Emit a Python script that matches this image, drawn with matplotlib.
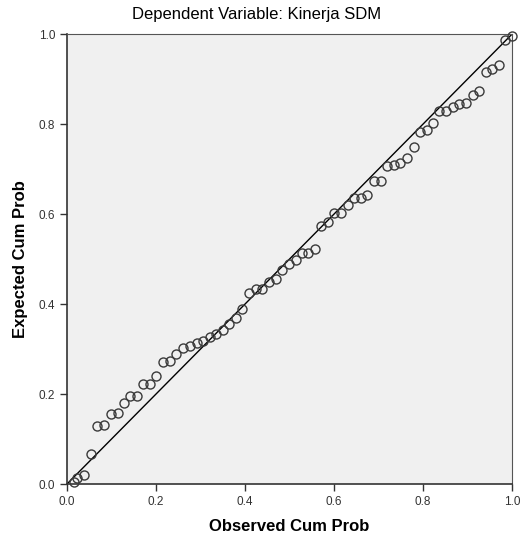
import numpy as np
import matplotlib
matplotlib.use('Agg')
import matplotlib.pyplot as plt

# Normal P-P plot of regression standardized residual
observed = [0.015, 0.022, 0.038, 0.054, 0.068, 0.082, 0.098, 0.114, 0.128, 0.142,
            0.157, 0.171, 0.186, 0.201, 0.216, 0.231, 0.246, 0.261, 0.276, 0.291,
            0.306, 0.321, 0.335, 0.350, 0.365, 0.380, 0.394, 0.410, 0.425, 0.439,
            0.453, 0.470, 0.484, 0.498, 0.514, 0.528, 0.542, 0.557, 0.571, 0.586,
            0.601, 0.616, 0.631, 0.645, 0.660, 0.675, 0.690, 0.705, 0.719, 0.734,
            0.748, 0.764, 0.779, 0.794, 0.809, 0.823, 0.837, 0.852, 0.867, 0.882,
            0.897, 0.912, 0.925, 0.941, 0.956, 0.970, 0.985, 0.999]
expected = [0.004, 0.013, 0.020, 0.067, 0.130, 0.132, 0.156, 0.157, 0.181, 0.196,
            0.196, 0.222, 0.222, 0.241, 0.272, 0.274, 0.289, 0.303, 0.307, 0.314,
            0.319, 0.326, 0.333, 0.343, 0.356, 0.368, 0.390, 0.424, 0.433, 0.433,
            0.450, 0.456, 0.476, 0.490, 0.498, 0.513, 0.513, 0.522, 0.574, 0.582,
            0.602, 0.602, 0.620, 0.636, 0.636, 0.642, 0.674, 0.674, 0.706, 0.709,
            0.714, 0.725, 0.749, 0.782, 0.786, 0.803, 0.830, 0.830, 0.839, 0.845,
            0.847, 0.865, 0.873, 0.916, 0.922, 0.932, 0.987, 0.996]
ticks = [0.0, 0.2, 0.4, 0.6, 0.8, 1.0]

plt.rcParams['font.family'] = ['Liberation Sans', 'DejaVu Sans']

fig = plt.figure(figsize=(5.26, 5.42), dpi=100)
ax = fig.add_axes([0.1274, 0.107, 0.846, 0.830])
ax.set_facecolor('#f0f0f0')

# reference diagonal
ax.plot([0, 1], [0, 1], color='black', lw=1.0, zorder=2)
ax.plot(observed, expected, 'o', markersize=6.5, markerfacecolor='none',
        markeredgecolor='#3a3a3a', markeredgewidth=1.0, zorder=3, clip_on=False)

ax.set_xlim(0, 1)
ax.set_ylim(0, 1)
ax.set_xticks(ticks)
ax.set_yticks(ticks)
ax.set_xticklabels([f"{t:.1f}" for t in ticks])
ax.set_yticklabels([f"{t:.1f}" for t in ticks])
ax.tick_params(direction='out', length=5, width=1, colors='#333333',
               labelsize=8.5, labelcolor='#333333')

for side in ['left', 'bottom']:
    ax.spines[side].set_color('#333333')
    ax.spines[side].set_linewidth(1.2)
for side in ['top', 'right']:
    ax.spines[side].set_color('#555555')

ax.set_xlabel('Observed Cum Prob', fontweight='bold', fontsize=12, labelpad=8)
ax.set_ylabel('Expected Cum Prob', fontweight='bold', fontsize=12, labelpad=8)

fig.text(257 / 526, 1 - 14 / 542, 'Dependent Variable: Kinerja SDM',
         ha='center', va='center', fontsize=12)

plt.savefig('out.png', dpi=100)
